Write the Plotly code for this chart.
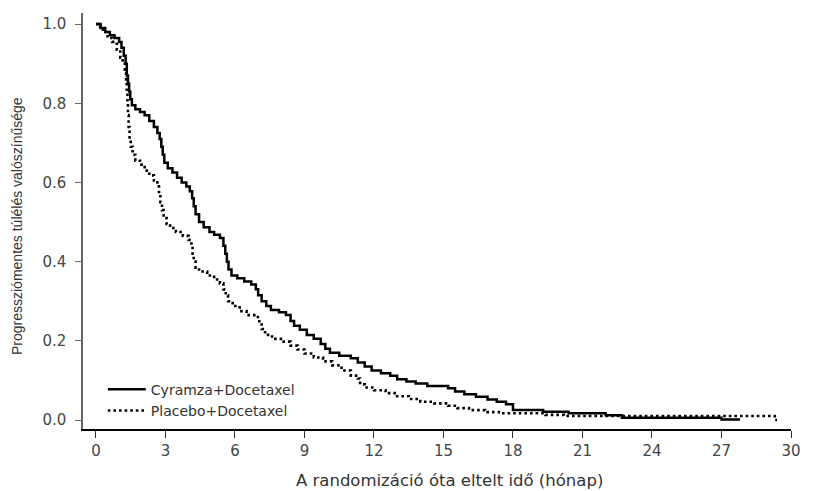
import plotly.graph_objects as go

# Kaplan-Meier step points (months, survival probability)
cyr_t = [0, 0.2, 0.4, 0.6, 0.8, 1.0, 1.1, 1.2, 1.28, 1.33, 1.38, 1.43, 1.48, 1.55, 1.7, 1.9,
         2.1, 2.3, 2.5, 2.65, 2.75, 2.82, 2.88, 2.95, 3.1, 3.3, 3.5, 3.7, 3.9, 4.05, 4.15,
         4.22, 4.3, 4.45, 4.65, 4.9, 5.1, 5.35, 5.5, 5.58, 5.65, 5.72, 5.85, 6.1, 6.4, 6.7,
         6.9, 7.0, 7.15, 7.35, 7.55, 7.9, 8.2, 8.4, 8.55, 8.8, 9.1, 9.4, 9.7, 9.9, 10.1,
         10.5, 11.0, 11.3, 11.6, 11.9, 12.3, 12.7, 13.0, 13.4, 13.8, 14.3, 15.2, 15.5, 15.9,
         16.4, 16.9, 17.3, 17.7, 18.0, 19.3, 20.4, 22.0, 22.7, 27.0, 27.8]
cyr_s = [1.0, 0.99, 0.98, 0.972, 0.965, 0.955, 0.94, 0.92, 0.90, 0.87, 0.85, 0.83, 0.81, 0.795,
         0.785, 0.778, 0.77, 0.755, 0.74, 0.725, 0.71, 0.69, 0.67, 0.65, 0.636, 0.625, 0.612,
         0.60, 0.59, 0.578, 0.56, 0.54, 0.52, 0.50, 0.487, 0.475, 0.468, 0.46, 0.44, 0.42,
         0.40, 0.38, 0.365, 0.358, 0.35, 0.342, 0.33, 0.315, 0.30, 0.288, 0.278, 0.272, 0.265,
         0.25, 0.238, 0.228, 0.215, 0.205, 0.192, 0.18, 0.17, 0.162, 0.156, 0.145, 0.135,
         0.125, 0.118, 0.112, 0.103, 0.097, 0.092, 0.086, 0.08, 0.072, 0.065, 0.059, 0.052,
         0.046, 0.04, 0.025, 0.021, 0.017, 0.012, 0.006, 0.001, 0.001]

pla_t = [0, 0.1, 0.3, 0.5, 0.7, 0.9, 1.05, 1.15, 1.25, 1.3, 1.33, 1.36, 1.38, 1.41, 1.45, 1.5,
         1.58, 1.7, 1.9, 2.1, 2.3, 2.5, 2.65, 2.72, 2.78, 2.85, 2.92, 3.05, 3.2, 3.45, 3.75,
         4.0, 4.12, 4.17, 4.22, 4.3, 4.45, 4.8, 5.1, 5.35, 5.5, 5.6, 5.7, 5.9, 6.2, 6.5, 6.9,
         7.05, 7.15, 7.3, 7.6, 8.1, 8.4, 8.7, 9.0, 9.4, 9.8, 10.2, 10.6, 11.0, 11.3, 11.4,
         11.6, 12.0, 12.5, 13.0, 13.5, 14.0, 14.6, 15.2, 15.6, 16.1, 16.8, 17.5, 19.4, 20.2,
         29.3, 29.4]
pla_s = [1.0, 0.993, 0.98, 0.965, 0.955, 0.935, 0.915, 0.90, 0.885, 0.86, 0.83, 0.80, 0.77,
         0.74, 0.71, 0.69, 0.67, 0.655, 0.645, 0.63, 0.618, 0.605, 0.59, 0.57, 0.55, 0.53,
         0.51, 0.495, 0.485, 0.475, 0.465, 0.455, 0.44, 0.42, 0.40, 0.385, 0.375, 0.365,
         0.355, 0.345, 0.33, 0.315, 0.30, 0.288, 0.275, 0.265, 0.26, 0.245, 0.23, 0.215,
         0.205, 0.198, 0.188, 0.178, 0.168, 0.158, 0.148, 0.138, 0.125, 0.112, 0.105, 0.09,
         0.082, 0.075, 0.068, 0.06, 0.053, 0.046, 0.042, 0.036, 0.03, 0.025, 0.02, 0.017,
         0.013, 0.01, 0.0, 0.0]

x_ticks = [0, 3, 6, 9, 12, 15, 18, 21, 24, 27, 30]
y_ticks = [0.0, 0.2, 0.4, 0.6, 0.8, 1.0]
y_labels = ["0.0", "0.2", "0.4", "0.6", "0.8", "1.0"]

names = ["Cyramza+Docetaxel", "Placebo+Docetaxel"]
x_title = "A randomizáció óta eltelt idő (hónap)"
y_title = "Progressziómentes túlélés valószínűsége"

fig = go.Figure()
fig.add_trace(go.Scatter(x=cyr_t, y=cyr_s, mode="lines", name=names[0],
                         line=dict(color="black", width=2.5, shape="hv")))
fig.add_trace(go.Scatter(x=pla_t, y=pla_s, mode="lines", name=names[1],
                         line=dict(color="black", width=2.6, shape="hv", dash="2.6px,3px")))

tick_font = dict(family="DejaVu Sans", size=15, color="#444")
fig.update_layout(
    width=819, height=491,
    margin=dict(l=83, r=28, t=13, b=62),
    paper_bgcolor="white", plot_bgcolor="white",
    showlegend=True,
    legend=dict(x=0.028, y=0.133, xanchor="left", yanchor="top",
                font=dict(family="DejaVu Sans", size=14, color="#333"),
                bgcolor="rgba(0,0,0,0)", tracegroupgap=0, itemwidth=38),
    xaxis=dict(range=[-0.56, 30.0], tickvals=x_ticks, ticks="outside", ticklen=7,
               tickcolor="#333", showline=True, linecolor="black", linewidth=1.5,
               showgrid=False, zeroline=False, tickfont=tick_font, ticklabelstandoff=0),
    yaxis=dict(range=[-0.0227, 1.028], tickvals=y_ticks, ticktext=y_labels,
               ticks="outside", ticklen=6, tickcolor="#666", showline=True,
               linecolor="#666", linewidth=1.5, showgrid=False, zeroline=False,
               tickfont=tick_font, ticklabelstandoff=6),
    annotations=[
        dict(text=x_title, xref="paper", yref="paper", x=0.517, y=-0.1226,
             xanchor="center", yanchor="middle", showarrow=False,
             font=dict(family="DejaVu Sans", size=16.5, color="#333")),
        dict(text=y_title, xref="paper", yref="paper", x=-0.0932, y=0.488,
             xanchor="center", yanchor="middle", showarrow=False, textangle=-90,
             font=dict(family="Liberation Sans", size=14, color="#333")),
    ],
)

fig.write_html("out.html", config={"displayModeBar": False})

# remove the default page margin so the figure sits at the window's top-left corner
with open("out.html", "r", encoding="utf-8") as f:
    html = f.read()
html = html.replace("<head>", "<head><style>html,body{margin:0;padding:0;overflow:hidden}</style>", 1)
with open("out.html", "w", encoding="utf-8") as f:
    f.write(html)
